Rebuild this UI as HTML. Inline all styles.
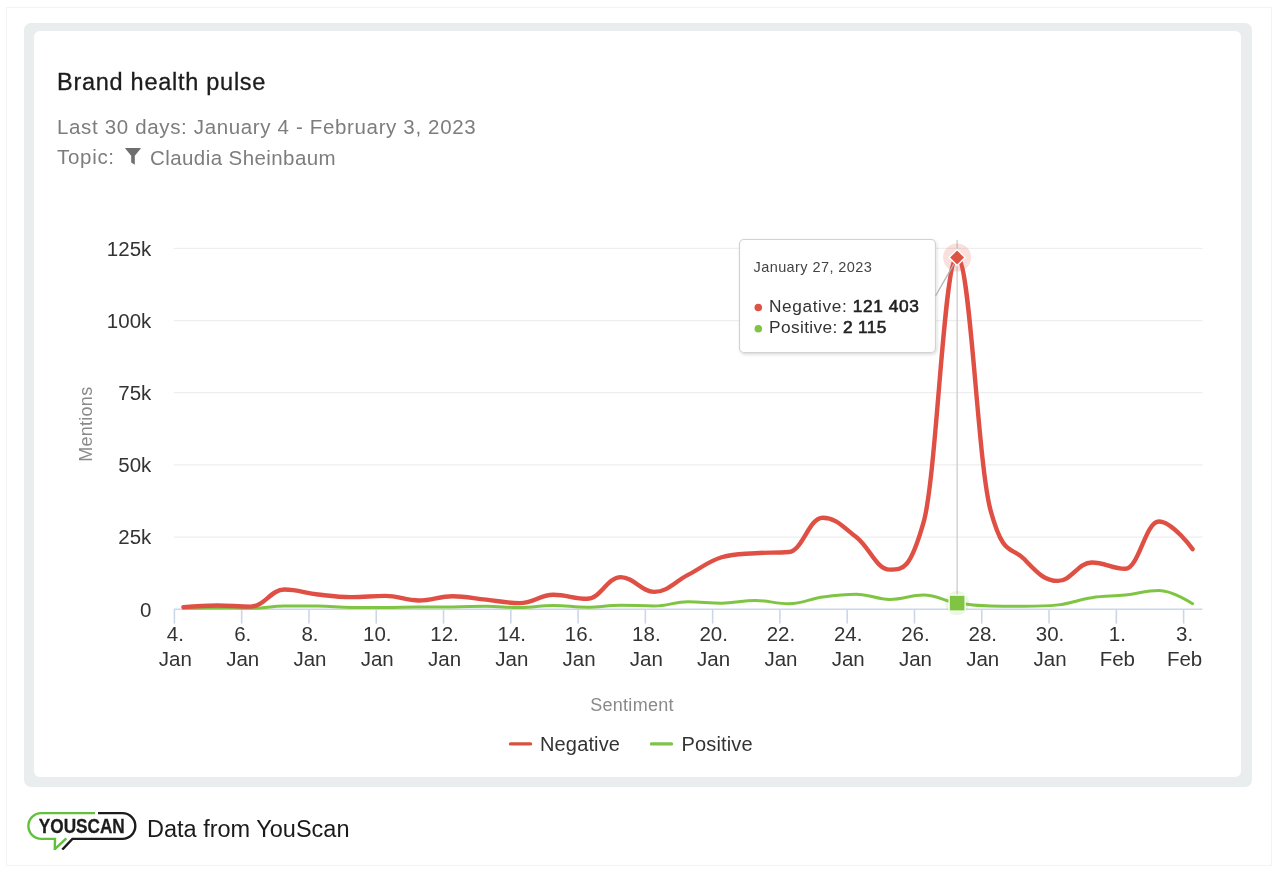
<!DOCTYPE html>
<html><head><meta charset="utf-8"><style>
html,body{margin:0;padding:0;background:#fff;}
body{width:1280px;height:876px;position:relative;overflow:hidden;font-family:"Liberation Sans",sans-serif;-webkit-font-smoothing:antialiased;}
.t,svg{will-change:transform;}
.outer{position:absolute;left:6px;top:7px;width:1266px;height:859px;border:1px solid #f3f3f3;box-sizing:border-box;}
.frame{position:absolute;left:24px;top:23px;width:1228px;height:764px;background:#e9edee;border-radius:7px;}
.card{position:absolute;left:34px;top:31px;width:1207px;height:746px;background:#fff;border-radius:6px;}
.t{position:absolute;white-space:nowrap;line-height:1;}
svg text{font-family:"Liberation Sans",sans-serif;}
.yl{font-size:20.5px;fill:#333;}
.xl{font-size:20.5px;fill:#333;}
.tt1{font-size:14.5px;fill:#444;letter-spacing:0.42px;}
.tt2{font-size:17.3px;fill:#333;letter-spacing:0.6px;}
.at{font-size:18px;fill:#8a8a8a;letter-spacing:0.28px;}
.sb{stroke:#222;fill:#222;stroke-width:0.6px;}
.lg{font-size:20px;fill:#333;letter-spacing:0.15px;}
</style></head><body>
<div class="outer"></div>
<div class="frame"></div>
<div class="card"></div>
<div class="t" style="left:57px;top:71.4px;font-size:23.5px;color:#1c1c1c;letter-spacing:0.73px;-webkit-text-stroke:0.3px #1c1c1c">Brand health pulse</div>
<div class="t" style="left:57px;top:117px;font-size:20.5px;color:#7d7d7d;letter-spacing:0.65px">Last 30 days: January 4 - February 3, 2023</div>
<div class="t" style="left:57px;top:146.5px;font-size:20.5px;color:#7d7d7d;letter-spacing:0.7px">Topic:</div>
<svg style="position:absolute;left:124px;top:147px" width="18" height="19" viewBox="0 0 18 19"><path d="M1.2 1.6 Q1 1 1.7 1 H16.3 Q17 1 16.8 1.6 L10.8 8.8 V17.8 L7.2 15.6 V8.8 Z" fill="#6f6f6f"/></svg>
<div class="t" style="left:150px;top:148.3px;font-size:20.5px;color:#7d7d7d;letter-spacing:0.42px">Claudia Sheinbaum</div>
<svg style="position:absolute;left:0;top:0" width="1280" height="876" viewBox="0 0 1280 876">
<defs><filter id="sh" x="-10%" y="-10%" width="130%" height="130%"><feDropShadow dx="1" dy="1.5" stdDeviation="1.5" flood-color="#000" flood-opacity="0.15"/></filter></defs>
<path d="M173.8 248.40 H1202.4" stroke="#eeeeee" stroke-width="1.2" fill="none"/>
<text x="151.3" y="255.80" text-anchor="end" class="yl">125k</text>
<path d="M173.8 320.56 H1202.4" stroke="#eeeeee" stroke-width="1.2" fill="none"/>
<text x="151.3" y="327.96" text-anchor="end" class="yl">100k</text>
<path d="M173.8 392.72 H1202.4" stroke="#eeeeee" stroke-width="1.2" fill="none"/>
<text x="151.3" y="400.12" text-anchor="end" class="yl">75k</text>
<path d="M173.8 464.88 H1202.4" stroke="#eeeeee" stroke-width="1.2" fill="none"/>
<text x="151.3" y="472.28" text-anchor="end" class="yl">50k</text>
<path d="M173.8 537.04 H1202.4" stroke="#eeeeee" stroke-width="1.2" fill="none"/>
<text x="151.3" y="544.44" text-anchor="end" class="yl">25k</text>
<text x="151.3" y="616.60" text-anchor="end" class="yl">0</text>
<path d="M173.8 609.20 H1202.4" stroke="#ccd6eb" stroke-width="1.6" fill="none"/>
<path d="M174.40 609.20 V623.6" stroke="#ccd6eb" stroke-width="1.6" fill="none"/>
<text x="175.40" y="640.8" text-anchor="middle" class="xl">4.</text>
<text x="175.40" y="666.2" text-anchor="middle" class="xl">Jan</text>
<path d="M241.68 609.20 V623.6" stroke="#ccd6eb" stroke-width="1.6" fill="none"/>
<text x="242.68" y="640.8" text-anchor="middle" class="xl">6.</text>
<text x="242.68" y="666.2" text-anchor="middle" class="xl">Jan</text>
<path d="M308.96 609.20 V623.6" stroke="#ccd6eb" stroke-width="1.6" fill="none"/>
<text x="309.96" y="640.8" text-anchor="middle" class="xl">8.</text>
<text x="309.96" y="666.2" text-anchor="middle" class="xl">Jan</text>
<path d="M376.24 609.20 V623.6" stroke="#ccd6eb" stroke-width="1.6" fill="none"/>
<text x="377.24" y="640.8" text-anchor="middle" class="xl">10.</text>
<text x="377.24" y="666.2" text-anchor="middle" class="xl">Jan</text>
<path d="M443.52 609.20 V623.6" stroke="#ccd6eb" stroke-width="1.6" fill="none"/>
<text x="444.52" y="640.8" text-anchor="middle" class="xl">12.</text>
<text x="444.52" y="666.2" text-anchor="middle" class="xl">Jan</text>
<path d="M510.80 609.20 V623.6" stroke="#ccd6eb" stroke-width="1.6" fill="none"/>
<text x="511.80" y="640.8" text-anchor="middle" class="xl">14.</text>
<text x="511.80" y="666.2" text-anchor="middle" class="xl">Jan</text>
<path d="M578.08 609.20 V623.6" stroke="#ccd6eb" stroke-width="1.6" fill="none"/>
<text x="579.08" y="640.8" text-anchor="middle" class="xl">16.</text>
<text x="579.08" y="666.2" text-anchor="middle" class="xl">Jan</text>
<path d="M645.36 609.20 V623.6" stroke="#ccd6eb" stroke-width="1.6" fill="none"/>
<text x="646.36" y="640.8" text-anchor="middle" class="xl">18.</text>
<text x="646.36" y="666.2" text-anchor="middle" class="xl">Jan</text>
<path d="M712.64 609.20 V623.6" stroke="#ccd6eb" stroke-width="1.6" fill="none"/>
<text x="713.64" y="640.8" text-anchor="middle" class="xl">20.</text>
<text x="713.64" y="666.2" text-anchor="middle" class="xl">Jan</text>
<path d="M779.92 609.20 V623.6" stroke="#ccd6eb" stroke-width="1.6" fill="none"/>
<text x="780.92" y="640.8" text-anchor="middle" class="xl">22.</text>
<text x="780.92" y="666.2" text-anchor="middle" class="xl">Jan</text>
<path d="M847.20 609.20 V623.6" stroke="#ccd6eb" stroke-width="1.6" fill="none"/>
<text x="848.20" y="640.8" text-anchor="middle" class="xl">24.</text>
<text x="848.20" y="666.2" text-anchor="middle" class="xl">Jan</text>
<path d="M914.48 609.20 V623.6" stroke="#ccd6eb" stroke-width="1.6" fill="none"/>
<text x="915.48" y="640.8" text-anchor="middle" class="xl">26.</text>
<text x="915.48" y="666.2" text-anchor="middle" class="xl">Jan</text>
<path d="M981.76 609.20 V623.6" stroke="#ccd6eb" stroke-width="1.6" fill="none"/>
<text x="982.76" y="640.8" text-anchor="middle" class="xl">28.</text>
<text x="982.76" y="666.2" text-anchor="middle" class="xl">Jan</text>
<path d="M1049.04 609.20 V623.6" stroke="#ccd6eb" stroke-width="1.6" fill="none"/>
<text x="1050.04" y="640.8" text-anchor="middle" class="xl">30.</text>
<text x="1050.04" y="666.2" text-anchor="middle" class="xl">Jan</text>
<path d="M1116.32 609.20 V623.6" stroke="#ccd6eb" stroke-width="1.6" fill="none"/>
<text x="1117.32" y="640.8" text-anchor="middle" class="xl">1.</text>
<text x="1117.32" y="666.2" text-anchor="middle" class="xl">Feb</text>
<path d="M1183.60 609.20 V623.6" stroke="#ccd6eb" stroke-width="1.6" fill="none"/>
<text x="1184.60" y="640.8" text-anchor="middle" class="xl">3.</text>
<text x="1184.60" y="666.2" text-anchor="middle" class="xl">Feb</text>
<path d="M957.12 240 V609" stroke="#cccccc" stroke-width="1.3" fill="none"/>
<path d="M183.40 608.33 C183.40 608.33 203.58 607.90 217.04 607.90 C230.50 607.90 237.22 608.33 250.68 608.33 C264.14 608.33 270.86 606.02 284.32 606.02 C297.78 606.02 304.50 606.02 317.96 606.02 C331.42 606.02 338.14 607.47 351.60 607.47 C365.06 607.47 371.78 607.47 385.24 607.47 C398.70 607.47 405.42 606.89 418.88 606.89 C432.34 606.89 439.06 606.89 452.52 606.89 C465.98 606.89 472.70 606.31 486.16 606.31 C499.62 606.31 506.34 607.47 519.80 607.47 C533.26 607.47 539.98 605.45 553.44 605.45 C566.90 605.45 573.62 607.18 587.08 607.18 C600.54 607.18 607.26 605.16 620.72 605.16 C634.18 605.16 640.90 606.02 654.36 606.02 C667.82 606.02 674.54 601.70 688.00 601.70 C701.46 601.70 708.18 603.14 721.64 603.14 C735.10 603.14 741.82 600.54 755.28 600.54 C768.74 600.54 775.46 603.72 788.92 603.72 C802.38 603.72 809.10 598.98 822.56 597.08 C836.02 595.17 842.74 594.19 856.20 594.19 C869.66 594.19 876.38 599.39 889.84 599.39 C903.30 599.39 910.02 595.06 923.48 595.06 C936.94 595.06 943.66 600.90 957.12 603.10 C970.58 605.29 977.30 605.74 990.76 606.02 C1004.22 606.31 1010.94 606.31 1024.40 606.31 C1037.86 606.31 1044.58 606.31 1058.04 604.87 C1071.50 603.43 1078.22 599.62 1091.68 597.65 C1105.14 595.69 1111.86 596.50 1125.32 595.06 C1138.78 593.61 1145.50 590.44 1158.96 590.44 C1172.42 590.44 1192.60 603.72 1192.60 603.72" stroke="#7fc543" stroke-width="3" fill="none" stroke-linecap="round" stroke-linejoin="round"/>
<path d="M183.40 607.18 C183.40 607.18 203.58 605.45 217.04 605.45 C230.50 605.45 237.22 606.60 250.68 606.60 C264.14 606.60 270.86 589.57 284.32 589.57 C297.78 589.57 304.50 592.98 317.96 594.48 C331.42 595.98 338.14 597.08 351.60 597.08 C365.06 597.08 371.78 595.92 385.24 595.92 C398.70 595.92 405.42 600.54 418.88 600.54 C432.34 600.54 439.06 596.21 452.52 596.21 C465.98 596.21 472.70 598.29 486.16 599.67 C499.62 601.06 506.34 603.14 519.80 603.14 C533.26 603.14 539.98 594.77 553.44 594.77 C566.90 594.77 573.62 598.81 587.08 598.81 C600.54 598.81 607.26 577.16 620.72 577.16 C634.18 577.16 640.90 591.88 654.36 591.88 C667.82 591.88 674.54 581.78 688.00 574.85 C701.46 567.92 708.18 561.29 721.64 557.24 C735.10 553.20 741.82 554.24 755.28 553.20 C768.74 552.16 775.46 553.20 788.92 552.05 C802.38 550.89 809.10 517.70 822.56 517.70 C836.02 517.70 842.74 526.65 856.20 537.04 C869.66 547.43 876.38 569.66 889.84 569.66 C903.30 569.66 910.02 569.66 923.48 522.61 C936.94 475.56 943.66 257.49 957.12 257.49 C970.58 257.49 977.30 462.86 990.76 511.06 C1004.22 559.27 1010.94 545.30 1024.40 559.27 C1037.86 573.24 1044.58 580.91 1058.04 580.91 C1071.50 580.91 1078.22 562.44 1091.68 562.44 C1105.14 562.44 1111.86 568.79 1125.32 568.79 C1138.78 568.79 1145.50 521.45 1158.96 521.45 C1172.42 521.45 1192.60 549.16 1192.60 549.16" stroke="#e04f43" stroke-width="4.4" fill="none" stroke-linecap="round" stroke-linejoin="round"/>
<circle cx="957.12" cy="257.49" r="14" fill="#de5343" fill-opacity="0.18"/>
<path d="M957.12 249.49 l8 8 l-8 8 l-8 -8z" fill="#de5343" stroke="#fff" stroke-width="1.5"/>
<circle cx="957.12" cy="603.10" r="12" fill="#7fc543" fill-opacity="0.15"/>
<rect x="949.12" y="595.10" width="16" height="16" fill="#7fc543" stroke="#fff" stroke-width="1.3"/>
<g filter="url(#sh)"><rect x="739.5" y="239.5" width="196" height="113" rx="4.5" fill="#ffffff" stroke="#d2d2d2" stroke-width="1.2"/></g>
<path d="M935.5 296 L954.12 263.49" stroke="#b5b5b5" stroke-width="1.4"/>
<text x="753.5" y="271.5" class="tt1">January 27, 2023</text>
<circle cx="758.3" cy="307.5" r="3.8" fill="#de5343"/>
<text x="769" y="312" class="tt2">Negative: <tspan class="sb">121 403</tspan></text>
<circle cx="758.3" cy="328.8" r="3.8" fill="#7fc543"/>
<text x="769" y="333.3" class="tt2" style="letter-spacing:0.38px">Positive: <tspan class="sb">2 115</tspan></text>
<text x="632" y="711" text-anchor="middle" class="at">Sentiment</text>
<text transform="translate(92.2 424.2) rotate(-90)" text-anchor="middle" class="at">Mentions</text>
<path d="M510.5 743.9 H530.5" stroke="#d85240" stroke-width="3.4" stroke-linecap="round"/>
<text x="540" y="750.8" class="lg">Negative</text>
<path d="M651.5 743.9 H671.5" stroke="#80c24a" stroke-width="3.4" stroke-linecap="round"/>
<text x="681.5" y="750.8" class="lg">Positive</text>
</svg>
<svg width="120" height="45" viewBox="0 0 120 45" style="position:absolute;left:20px;top:805px">
<path d="M75 8.1 H21.3 A12.9 12.9 0 0 0 21.3 33.9 H35 L34.8 44.2 L46.3 33.4" fill="none" stroke="#62c03c" stroke-width="2.4" stroke-linejoin="miter"/>
<path d="M78 8.1 H102.4 A12.9 12.9 0 0 1 102.4 33.9 H52.4 L42.3 44.6" fill="none" stroke="#1c1c1c" stroke-width="2.4"/>
<text x="61.8" y="27.9" text-anchor="middle" font-family="Liberation Sans" font-weight="bold" font-size="19.5" fill="#1c1c1c" stroke="#1c1c1c" stroke-width="0.3" textLength="86" lengthAdjust="spacingAndGlyphs">YOUSCAN</text>
</svg>
<div class="t" style="left:146.6px;top:817.5px;font-size:23.5px;color:#1a1a1a">Data from YouScan</div>
</body></html>
